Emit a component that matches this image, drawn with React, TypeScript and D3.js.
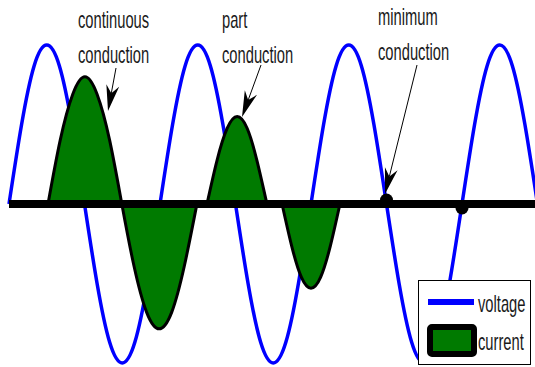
import React from 'react';
import * as d3 from 'd3';

// Angles in degrees of the supply voltage, one sample every 30 degrees
const voltageAngles = [
  0, 30, 60, 90, 120, 150, 180, 210, 240, 270, 300, 330,
  360, 390, 420, 450, 480, 510, 540, 570, 600, 630, 660, 690,
  720, 750, 780, 810, 840, 870, 900, 930, 960, 990, 1020, 1050,
  1080, 1110, 1140, 1170, 1200, 1230, 1260,
];
const voltageValues = [
  0, 0.5, 0.87, 1, 0.87, 0.5, 0, -0.5, -0.87, -1, -0.87, -0.5,
  0, 0.5, 0.87, 1, 0.87, 0.5, 0, -0.5, -0.87, -1, -0.87, -0.5,
  0, 0.5, 0.87, 1, 0.87, 0.5, 0, -0.5, -0.87, -1, -0.87, -0.5,
  0, 0.5, 0.87, 1, 0.87, 0.5, 0,
];

// Current pulses (continuous conduction, then part conduction)
const pulse1Angles = [93, 122, 152, 181, 210, 240, 269, 298, 328, 358, 388, 418, 448];
const pulse1Values = [0, 0.4, 0.69, 0.8, 0.69, 0.4, 0, -0.39, -0.68, -0.785, -0.68, -0.39, 0];
const pulse2Angles = [472, 496, 520, 544, 568, 591, 615];
const pulse2Values = [0, 0.275, 0.475, 0.55, 0.475, 0.275, 0];
const pulse3Angles = [651, 674, 697, 720, 743, 766, 789];
const pulse3Values = [0, -0.265, -0.46, -0.53, -0.46, -0.265, 0];

// Minimum conduction: tiny blips at the zero crossings
const blipAngles = [900, 1080];
const blipValues = [0.025, -0.025];

const legendLabels = ['voltage', 'current'];

const W = 535;
const H = 367;
const BLUE = '#0000ff';
const GREEN = '#007a00';
const FONT = '"Liberation Sans", Arial, sans-serif';

const x = d3.scaleLinear().domain([0, 1260]).range([9, 9 + 1260 * 151 / 360]);
const y = d3.scaleLinear().domain([-1, 1]).range([363, 45]);

const zip = (a: number[], b: number[]) => a.map((t, i) => [t, b[i]] as [number, number]);

const line = d3.line<[number, number]>()
  .x(d => x(d[0]))
  .y(d => y(d[1]))
  .curve(d3.curveNatural);

const area = d3.area<[number, number]>()
  .x(d => x(d[0]))
  .y0(y(0))
  .y1(d => y(d[1]))
  .curve(d3.curveNatural);

// arrow with a notched head, from (x1,y1) to tip (x2,y2)
const Arrow = ({ x1, y1, x2, y2 }: { x1: number; y1: number; x2: number; y2: number }) => {
  const dx = x2 - x1, dy = y2 - y1;
  const len = Math.hypot(dx, dy);
  const ux = dx / len, uy = dy / len;
  const px = -uy, py = ux;
  const L = 26, hw = 6.5, notch = 18;
  const bx = x2 - ux * L, by = y2 - uy * L;
  const nx = x2 - ux * notch, ny = y2 - uy * notch;
  const head = `M${x2},${y2}L${bx + px * hw},${by + py * hw}L${nx},${ny}L${bx - px * hw},${by - py * hw}Z`;
  return (
    <g>
      <line x1={x1} y1={y1} x2={nx} y2={ny} stroke="#000" strokeWidth={1} />
      <path d={head} fill="#000" />
    </g>
  );
};

// narrow, tall lettering as in the original figure
const Label = ({ x, y, text }: { x: number; y: number; text: string }) => (
  <text transform={`translate(${x},${y}) scale(0.64,1)`} fontFamily={FONT}
    fontSize={23} fill="#1a1a1a">{text}</text>
);

export default function App() {
  const voltage = zip(voltageAngles, voltageValues);
  const pulses = [
    zip(pulse1Angles, pulse1Values),
    zip(pulse2Angles, pulse2Values),
    zip(pulse3Angles, pulse3Values),
  ];

  return (
    <div style={{ position: 'fixed', left: 0, top: 0 }}>
      <svg width={W} height={H} style={{ display: 'block', background: '#fff' }}>
        <path d={line(voltage) ?? ''} fill="none" stroke={BLUE} strokeWidth={3.5} />

        {pulses.map((p, i) => (
          <g key={i}>
            <path d={area(p) ?? ''} fill={GREEN} />
            <path d={line(p) ?? ''} fill="none" stroke="#000" strokeWidth={3} />
          </g>
        ))}

        <line x1={x(0)} x2={W} y1={y(0)} y2={y(0)} stroke="#000" strokeWidth={8} />

        {blipAngles.map((a, i) => (
          <circle key={i} cx={x(a)} cy={y(blipValues[i])} r={6.5} fill="#000" />
        ))}

        <Arrow x1={116} y1={68} x2={108} y2={111} />
        <Arrow x1={261} y1={65} x2={242} y2={117} />
        <Arrow x1={417} y1={65} x2={385} y2={194} />

        <Label x={78} y={28} text="continuous" />
        <Label x={78} y={63} text="conduction" />
        <Label x={222} y={28} text="part" />
        <Label x={222} y={63} text="conduction" />
        <Label x={378} y={25} text="minimum" />
        <Label x={378} y={60} text="conduction" />

        <g>
          <rect x={418.5} y={280.5} width={112} height={84} fill="#fff" stroke="#000" strokeWidth={1} />
          <line x1={428} x2={474} y1={302} y2={302} stroke={BLUE} strokeWidth={6} />
          <rect x={430} y={327} width={44} height={27} rx={2} fill={GREEN} stroke="#000" strokeWidth={6} />
          <Label x={478} y={312} text={legendLabels[0]} />
          <Label x={478} y={350} text={legendLabels[1]} />
        </g>
      </svg>
    </div>
  );
}
